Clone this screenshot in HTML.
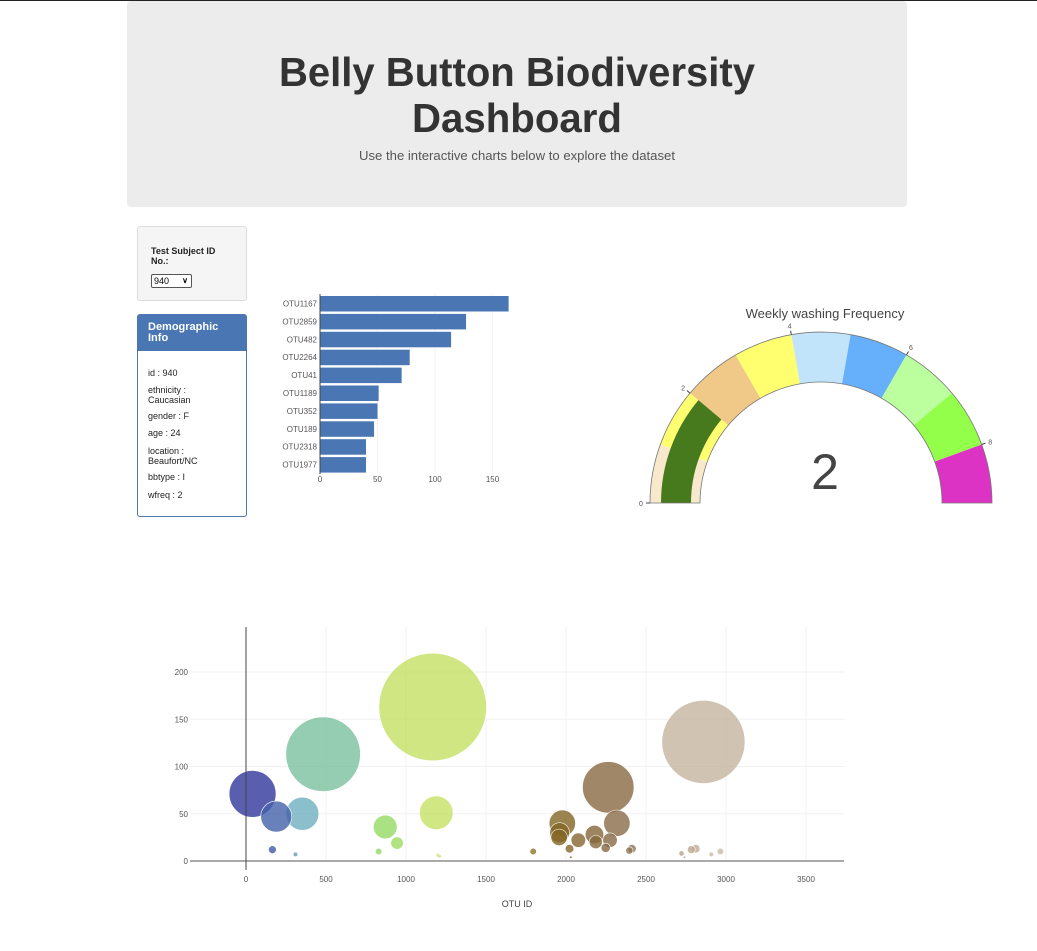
<!DOCTYPE html>
<html><head><meta charset="utf-8">
<style>
body{margin:0;width:1037px;height:951px;position:relative;background:#fff;font-family:"Liberation Sans",sans-serif;overflow:hidden}
.abs{position:absolute}
#topline{left:0;top:0;width:1037px;height:1px;background:#222}
#header{left:127px;top:1px;width:780px;height:206px;background:#ececec;border-radius:4px}
#sel-panel{left:137px;top:226px;width:108px;height:73px;background:#f5f5f5;border:1px solid #ddd;border-radius:3px}
#demo{left:137px;top:314px;width:108px;height:201px;border:1px solid #4a77b4;border-radius:3px}
#demo-h{left:0;top:0;width:108px;height:36px;background:#4a77b4;color:#fff;font-weight:bold;font-size:11px;line-height:11px;box-sizing:border-box;padding:7px 10px}
.di{font-size:9px;color:#222;left:10px;line-height:9.5px;width:62px}
</style></head><body>
<div id="topline" class="abs"></div>
<div id="header" class="abs">
<svg width="780" height="206" style="position:absolute;left:0;top:0">
<text x="390" y="85" text-anchor="middle" font-size="41" font-weight="bold" fill="#333" textLength="476" lengthAdjust="spacingAndGlyphs">Belly Button Biodiversity</text>
<text x="390" y="131" text-anchor="middle" font-size="41" font-weight="bold" fill="#333" textLength="210" lengthAdjust="spacingAndGlyphs">Dashboard</text>
<text x="390" y="159" text-anchor="middle" font-size="13" fill="#555" textLength="316" lengthAdjust="spacingAndGlyphs">Use the interactive charts below to explore the dataset</text>
</svg></div>

<div id="sel-panel" class="abs">
<div class="abs" style="left:13px;top:20px;font-size:9px;font-weight:bold;color:#222;line-height:9.5px;width:80px">Test Subject ID No.:</div>
<div class="abs" style="left:13px;top:47px;width:37px;height:12px;border:1px solid #555;border-radius:2px;background:#fff;font-size:9px;line-height:12px;padding-left:2px;box-sizing:content-box">940<span style="position:absolute;right:3px;top:0;font-size:8px;font-weight:bold">&#x2228;</span></div>
</div>

<div id="demo" class="abs">
<div id="demo-h" class="abs">Demographic Info</div>
<div class="abs di" style="top:54px">id : 940</div>
<div class="abs di" style="top:71px">ethnicity : Caucasian</div>
<div class="abs di" style="top:97px">gender : F</div>
<div class="abs di" style="top:114px">age : 24</div>
<div class="abs di" style="top:132px">location : Beaufort/NC</div>
<div class="abs di" style="top:158px">bbtype : I</div>
<div class="abs di" style="top:176px">wfreq : 2</div>
</div>

<svg id="bar" class="abs" style="left:0;top:0" width="1037" height="951">
<g id="barg"></g>
<g id="gauge"></g>
<g id="bubble"></g>
</svg>

<script>
const barLabels=["OTU1167","OTU2859","OTU482","OTU2264","OTU41","OTU1189","OTU352","OTU189","OTU2318","OTU1977"];
const barValues=[164,127,114,78,71,51,50,47,40,40];
const barTicks=[0,50,100,150];
const gaugeValue=2;
const gaugeTicks=[0,2,4,6,8];
const gaugeColors=["#f8e8cc","#ffff70","#f0c888","#ffff70","#c2e4fa","#66b0fb","#bcff9e","#94ff4a","#dd33c4"];
const bubbleIds=[41,189,352,482,1167,1189,2859,2264,2318,1977,165,309,829,870,944,1795,1960,1957,2022,2077,2178,2186,2248,2275,2396,2412,2722,2783,2811,2908,2965,1200,1210,2030,2740];
const bubbleValues=[71,47,50,113,163,51,126,78,40,40,12,7,10,36,19,10,30,25,13,22,28,20,14,22,11,13,8,12,13,7,10,6,5,4,4];
const bubbleXTicks=[0,500,1000,1500,2000,2500,3000,3500];
const bubbleYTicks=[0,50,100,150,200];

const NS="http://www.w3.org/2000/svg";
function mk(p,t,a){const e=document.createElementNS(NS,t);for(const k in a)e.setAttribute(k,a[k]);p.appendChild(e);return e;}

// BAR
const bg=document.getElementById('barg');
const bx=v=>320+v*1.15;
const by=i=>296+i*17.9;
barTicks.forEach(t=>{
 if(t>0){const l=mk(bg,'line',{x1:bx(t),x2:bx(t),y1:294,y2:474,stroke:'#f2f2f2'});
 
 }
 const tx=mk(bg,'text',{x:bx(t),y:482,'font-size':8,fill:'#555','text-anchor':'middle'});tx.textContent=t;
 
 
});
barLabels.forEach((lab,i)=>{
 const r=mk(bg,'rect',{x:bx(0),y:by(i),width:bx(barValues[i])-bx(0),height:15.5,fill:'#4a77b4'});
 
 
 const t=mk(bg,'text',{x:317,y:by(i)+10.5,'font-size':8,fill:'#555','text-anchor':'end'});t.textContent=lab;
 
 
});
const ax=mk(bg,'line',{x1:320,x2:320,y1:294,y2:474,stroke:'#444'});



// GAUGE
const gg=document.getElementById('gauge');
const cx=821,cy=503,R=171,r0=121,gmax=9;
const ang=v=>Math.PI*(1-v/gmax);
const pt=(v,rad)=>[cx+rad*Math.cos(ang(v)),cy-rad*Math.sin(ang(v))];
function arc(a,b,ro,ri){const p1=pt(a,ro),p2=pt(b,ro),p3=pt(b,ri),p4=pt(a,ri);
 return `M${p1}A${ro},${ro} 0 0 1 ${p2}L${p3}A${ri},${ri} 0 0 0 ${p4}Z`;}
const tt=mk(gg,'text',{x:825,y:318,'font-size':13,fill:'#444','text-anchor':'middle'});tt.textContent='Weekly washing Frequency';


gaugeColors.forEach((c,i)=>{const p=mk(gg,'path',{d:arc(i,i+1,R,r0),fill:c});
 
 });
const vb=mk(gg,'path',{d:arc(0,gaugeValue,R-11,r0+9),fill:'#477a1c'});


const ol=mk(gg,'path',{d:arc(0,gmax,R,r0),fill:'none',stroke:'#777','stroke-width':0.8});


gaugeTicks.forEach(t=>{const a=pt(t,R),b=pt(t,R+4),c=pt(t,R+9);
 const l=mk(gg,'line',{x1:a[0],y1:a[1],x2:b[0],y2:b[1],stroke:'#444'});
 
 
 const x=mk(gg,'text',{x:c[0],y:c[1]+3,'font-size':7,fill:'#555','text-anchor':'middle'});x.textContent=t;
 
 });
const gv=mk(gg,'text',{x:825,y:489,'font-size':50,fill:'#444','text-anchor':'middle'});gv.textContent=gaugeValue;



// BUBBLE
const bb=document.getElementById('bubble');
const X=v=>246+v*0.16, Y=v=>861-v*0.945;
bubbleXTicks.forEach(t=>{
 if(t>0){const l=mk(bb,'line',{x1:X(t),x2:X(t),y1:627,y2:861,stroke:'#f0f0f0'});
 
 }
 const x=mk(bb,'text',{x:X(t),y:882,'font-size':8,fill:'#555','text-anchor':'middle'});x.textContent=t;
 
 });
bubbleYTicks.forEach(t=>{
 if(t>0){const l=mk(bb,'line',{x1:190,x2:844,y1:Y(t),y2:Y(t),stroke:'#f0f0f0'});
 
 }
 const x=mk(bb,'text',{x:188,y:Y(t)+3,'font-size':8,fill:'#555','text-anchor':'end'});x.textContent=t;
 
 });
const stops=[[0,[42,42,150]],[200,[70,100,170]],[350,[110,175,190]],[500,[125,195,155]],[900,[150,220,95]],[1200,[200,225,100]],[1900,[130,100,30]],[2300,[135,105,70]],[2900,[200,185,165]],[3600,[220,210,200]]];
function col(v){for(let i=0;i<stops.length-1;i++){const[a,ca]=stops[i],[b,cb]=stops[i+1];
 if(v<=b){const f=(v-a)/(b-a);return 'rgb('+ca.map((c,k)=>Math.round(c+(cb[k]-c)*f)).join(',')+')';}}return 'rgb(220,210,200)';}
const order=bubbleIds.map((_,i)=>i).sort((a,b)=>bubbleValues[b]-bubbleValues[a]);
order.forEach(i=>{const v=bubbleValues[i];
 const e=mk(bb,'circle',{cx:X(bubbleIds[i]),cy:Y(v),r:0.33*v,fill:col(bubbleIds[i]),'fill-opacity':0.8,stroke:'#fff','stroke-width':0.6});
 
 });
const xa=mk(bb,'line',{x1:190,x2:844,y1:861,y2:861,stroke:'#555'});


const ya=mk(bb,'line',{x1:246,x2:246,y1:627,y2:870,stroke:'#444'});


const xt=mk(bb,'text',{x:517,y:907,'font-size':9,fill:'#444','text-anchor':'middle'});xt.textContent='OTU ID';


</script>
</body></html>
